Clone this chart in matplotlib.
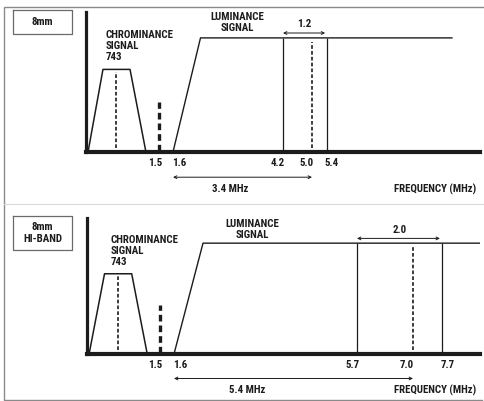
# 8mm vs 8mm Hi-Band frequency allocation (schematic)
import numpy as np
import matplotlib.pyplot as plt
from matplotlib.scale import FuncScale

plt.rcParams['font.family'] = ['Roboto Condensed', 'Liberation Sans Narrow',
                               'Roboto', 'DejaVu Sans']
plt.rcParams['font.weight'] = 'bold'

# Data: frequencies in MHz, levels relative to the axis height
chroma_carrier = 0.743
chroma_band = [0.05, 0.42, 0.99, 1.27]
chroma_level = 0.59
luma_level = 0.815
pilot_freq = 1.5
luma_start = 1.6
luma_rise = 2.25

std_sync, std_carrier, std_peak = 4.2, 5.0, 5.4
hi_sync, hi_carrier, hi_peak = 5.7, 7.0, 7.7
std_ticks = [1.5, 1.6, 4.2, 5.0, 5.4]
hi_ticks = [1.5, 1.6, 5.7, 7.0, 7.7]
std_end, hi_end = 8.34, 8.6
std_labels = ['1.2', '3.4 MHz']
hi_labels = ['2.0', '5.4 MHz']

# schematic (non linear) axis: frequency -> pixel anchors
std_anchor_f = [0, 0.743, 1.5, 1.6, 4.2, 5.0, 5.4, 9.0]
std_anchor_px = [86, 116, 159, 173, 283, 312, 327, 480]
hi_anchor_f = [0, 0.743, 1.5, 1.6, 5.7, 7.0, 7.7, 8.6]
hi_anchor_px = [87, 118, 160, 174, 357, 413, 442, 480]

W, H = 484, 401
ink = '#1c1c1c'
fs = 7.8
fig = plt.figure(figsize=(W / 100, H / 100), dpi=100)

# layout layer in pixel coords (frame, boxes)
bg = fig.add_axes([0, 0, 1, 1])
bg.set_xlim(0, W)
bg.set_ylim(H, 0)
bg.axis('off')
bg.plot([484, 4, 4, 482], [7, 7, 400, 400], color='#8a8a8a', lw=1)
bg.plot([4, 484], [204, 204], color='#d8d8d8', lw=0.8)


def box(x0, y0, x1, y1, lines):
    bg.plot([x0, x1, x1, x0, x0], [y0, y0, y1, y1, y0], color='#6a6a6a', lw=0.9)
    cy = (y0 + y1) / 2
    n = len(lines)
    for i, s in enumerate(lines):
        bg.text((x0 + x1) / 2, cy + (i - (n - 1) / 2) * 12, s, ha='center',
                va='center', fontsize=fs, color=ink)


box(13, 10, 72, 34, ['8mm'])
box(13, 216, 72, 250, ['8mm', 'HI-BAND'])


def panel(rect_px, anchor_f, anchor_px, ticks, tick_dx, sync, carrier, peak,
          end, labels, mhz_dx, chroma_xy, luma_xy, span_y):
    left, top, right, base = rect_px
    ax = fig.add_axes([left / W, 1 - base / H, (right - left) / W, (base - top) / H])
    fwd = lambda f: np.interp(f, anchor_f, anchor_px)
    inv = lambda p: np.interp(p, anchor_px, anchor_f)
    ax.set_xscale(FuncScale(ax, (fwd, inv)))
    ax.set_xlim(inv(left), inv(right))
    ax.set_ylim(0, 1)
    ax.patch.set_alpha(0)
    for s in ['top', 'right']:
        ax.spines[s].set_visible(False)
    ax.spines['left'].set_linewidth(2.3)
    ax.spines['bottom'].set_linewidth(3.0)
    ax.spines['left'].set_color(ink)
    ax.spines['bottom'].set_color(ink)
    ax.set_xticks([])
    ax.set_yticks([])

    # chrominance trapezoid + carrier
    ax.plot(chroma_band, [0, chroma_level, chroma_level, 0], color=ink, lw=1.1)
    ax.plot([chroma_carrier, chroma_carrier], [0.03, chroma_level - 0.02],
            color=ink, lw=1.2, dashes=(2.2, 1.3))
    # pilot
    ax.plot([pilot_freq, pilot_freq], [0.01, 0.36], color=ink, lw=2.4,
            dashes=(2.0, 1.2))
    # luminance
    ax.plot([luma_start, luma_rise, end], [0, luma_level, luma_level],
            color=ink, lw=1.0)
    ax.vlines([sync, peak], 0, luma_level, color=ink, lw=0.9)
    ax.plot([carrier, carrier], [0.03, luma_level - 0.03], color=ink, lw=1.2,
            dashes=(2.2, 1.3))

    # tick labels
    for t, dx in zip(ticks, tick_dx):
        ax.annotate(f'{t:.1f}', (t, 0), xytext=(dx, -11.5),
                    textcoords='offset pixels', ha='center', va='center',
                    fontsize=fs, color=ink, annotation_clip=False)

    # deviation span
    ax.annotate('', (sync, span_y), xytext=(peak - 0.05, span_y),
                arrowprops=dict(arrowstyle='<->', lw=0.7, color=ink,
                                mutation_scale=5, shrinkA=0, shrinkB=0),
                annotation_clip=False)
    ax.text((sync + peak) / 2, span_y + 0.065, labels[0], ha='center',
            va='center', fontsize=fs, color=ink)
    # carrier distance
    ax.annotate('', (luma_start, -0.18), xytext=(carrier, -0.18),
                arrowprops=dict(arrowstyle='<->', lw=0.7, color=ink,
                                mutation_scale=5, shrinkA=0, shrinkB=0),
                annotation_clip=False)
    ax.annotate(labels[1], (luma_start, -0.265), xytext=(mhz_dx, 0),
                textcoords='offset pixels', ha='center', va='center',
                fontsize=fs, color=ink, annotation_clip=False)
    ax.text(0.99, -0.265, 'FREQUENCY (MHz)', transform=ax.transAxes,
            ha='right', va='center', fontsize=fs, color=ink)

    ax.text(chroma_xy[0], chroma_xy[1], 'CHROMINANCE\nSIGNAL\n743',
            transform=ax.transAxes, ha='left', va='top', fontsize=fs,
            color=ink, linespacing=1.12)
    ax.text(luma_xy[0], luma_xy[1], 'LUMINANCE\nSIGNAL',
            transform=ax.transAxes, ha='center', va='top', fontsize=fs,
            color=ink, linespacing=1.12)
    return ax


panel((86, 12, 480, 152), std_anchor_f, std_anchor_px, std_ticks,
      [-4, 6, -5, -5, 5], std_sync, std_carrier, std_peak, std_end,
      std_labels, 57, (0.05, 0.87), (0.385, 1.0), 0.85)
panel((87, 218, 480, 354), hi_anchor_f, hi_anchor_px, hi_ticks,
      [-5, 6, -4, -6, 6], hi_sync, hi_carrier, hi_peak, hi_end,
      hi_labels, 73, (0.06, 0.875), (0.42, 0.99), 0.85)

fig.savefig('out.png', dpi=100)
